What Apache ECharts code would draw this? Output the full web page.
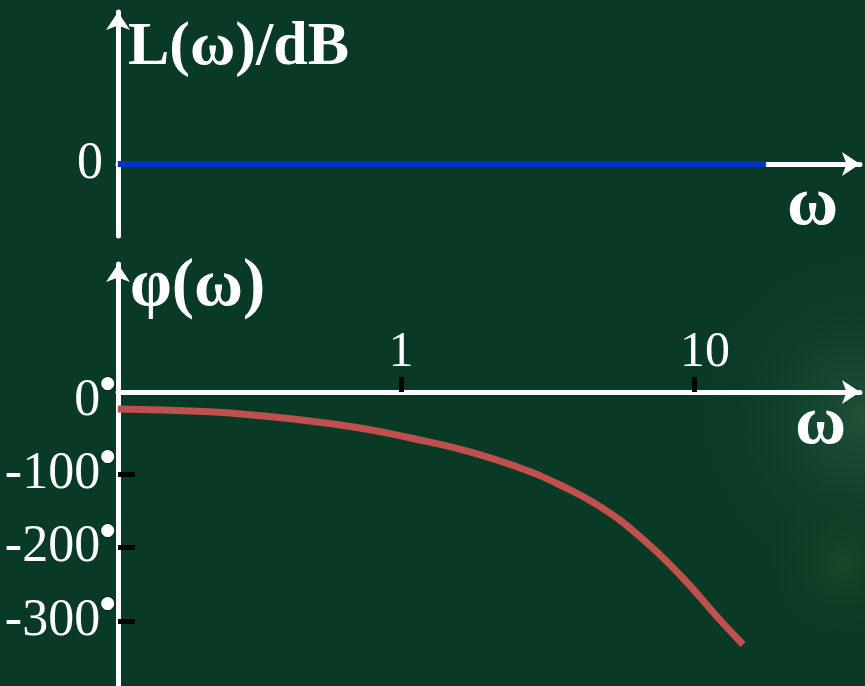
<!DOCTYPE html>
<html>
<head>
<meta charset="utf-8">
<script src="https://cdn.jsdelivr.net/npm/echarts@6/dist/echarts.min.js"></script>
<style>
  html, body { margin: 0; padding: 0; background: #083a26; }
  #chart { width: 865px; height: 686px; }
</style>
</head>
<body>
<div id="chart"></div>
<script>
// Bode diagram: flat magnitude at 0 dB, phase dropping off with frequency
const omegaMag = [0.108, 17.6];
const magDb = [0, 0];

const omegaPhase = [0.108, 0.223, 0.33, 0.489, 0.724, 1.07, 1.72, 2.55, 3.49, 4.78, 6.54, 8.96, 12.27, 14.7];
const phaseDeg = [-10.9, -14.6, -20.1, -27.3, -36.8, -50.1, -69.2, -91.4, -114.5, -144.1, -185.0, -237.3, -298.6, -332.0];

const omegaTicks = [1, 10];
const magTicks = [0];
const phaseTicks = [0, -100, -200, -300];

const SERIF = '"Liberation Serif", "Times New Roman", serif';
const lg = v => Math.log10(v);

// frequency axis is drawn in decades (log10 of omega)
const X_MIN = -0.966, X_MAX = 1.5666;

const chart = echarts.init(document.getElementById('chart'), null, { renderer: 'canvas' });

const arrowLine = {
  onZero: false,
  symbol: ['none', 'arrow'],
  symbolSize: [18, 18],
  lineStyle: { color: '#ffffff', width: 5 }
};

chart.setOption({
  backgroundColor: '#083a26',
  animation: false,
  grid: [
    { left: 118, right: 5, top: 12, bottom: 450, outerBoundsMode: 'none', containLabel: false },
    { left: 118, right: 5, top: 264, bottom: 0, outerBoundsMode: 'none', containLabel: false }
  ],
  xAxis: [
    {
      gridIndex: 0, type: 'value', min: X_MIN, max: X_MAX,
      axisLine: Object.assign({}, arrowLine, { onZero: true }),
      axisTick: { show: false }, axisLabel: { show: false }, splitLine: { show: false }
    },
    {
      gridIndex: 1, type: 'value', min: X_MIN, max: X_MAX,
      position: 'top', offset: -128,
      axisLine: arrowLine,
      axisTick: {
        show: true, customValues: omegaTicks.map(lg), length: 15,
        lineStyle: { color: '#000000', width: 5 }
      },
      axisLabel: {
        customValues: omegaTicks.map(lg),
        formatter: v => {
          const t = String(Math.round(Math.pow(10, v)));
          return t.length > 1 ? '{w|' + t + '}' : t;
        },
        rich: { w: { color: '#ffffff', fontSize: 50, fontFamily: SERIF, padding: [0, 0, 0, 22] } },
        color: '#ffffff', fontSize: 50, fontFamily: SERIF, margin: 14
      },
      splitLine: { show: false }
    }
  ],
  yAxis: [
    {
      gridIndex: 0, type: 'value', min: -72, max: 152,
      axisLine: arrowLine,
      axisTick: { show: false },
      axisLabel: {
        customValues: magTicks, color: '#ffffff', fontSize: 52, fontFamily: SERIF, margin: 15
      },
      splitLine: { show: false }
    },
    {
      gridIndex: 1, type: 'value', min: -388.6, max: 186.8,
      axisLine: arrowLine,
      axisTick: {
        show: true, inside: true, customValues: phaseTicks.slice(1), length: 17,
        lineStyle: { color: '#000000', width: 5 }
      },
      axisLabel: {
        customValues: phaseTicks,
        formatter: v => '{n|' + v + '}{d|●}',
        rich: {
          n: { color: '#ffffff', fontSize: 52, fontFamily: SERIF },
          d: {
            color: '#ffffff', fontSize: 17, fontFamily: '"DejaVu Sans"', verticalAlign: 'top',
            textBorderColor: '#0b2a12', textBorderWidth: 2
          }
        },
        margin: 3
      },
      splitLine: { show: false }
    }
  ],
  series: [
    {
      type: 'line', xAxisIndex: 0, yAxisIndex: 0,
      data: omegaMag.map((w, i) => [lg(w), magDb[i]]),
      showSymbol: false, z: 5,
      lineStyle: { color: '#0033cc', width: 6 }
    },
    {
      type: 'line', xAxisIndex: 1, yAxisIndex: 1,
      data: omegaPhase.map((w, i) => [lg(w), phaseDeg[i]]),
      smooth: 0.5, showSymbol: false, z: 5,
      lineStyle: { color: '#c0504d', width: 7 }
    }
  ],
  graphic: [
    {
      // soft light glow along the right edge of the board
      type: 'rect', z: -10, silent: true,
      shape: { x: 660, y: 150, width: 205, height: 536 },
      style: {
        fill: {
          type: 'radial', x: 1.0, y: 0.5, r: 0.9,
          colorStops: [
            { offset: 0, color: 'rgba(56,104,76,0.5)' },
            { offset: 0.45, color: 'rgba(36,86,60,0.25)' },
            { offset: 1, color: 'rgba(8,58,38,0)' }
          ]
        }
      }
    },
    {
      type: 'rect', z: -9, silent: true,
      shape: { x: 750, y: 470, width: 115, height: 190 },
      style: {
        fill: {
          type: 'radial', x: 0.8, y: 0.5, r: 0.65,
          colorStops: [
            { offset: 0, color: 'rgba(40,92,42,0.4)' },
            { offset: 1, color: 'rgba(20,70,35,0)' }
          ]
        }
      }
    },
    {
      type: 'text', z: 10, x: 128, y: 48,
      style: { text: 'L(ω)/dB', fill: '#ffffff', font: 'bold 62px ' + SERIF, verticalAlign: 'middle' }
    },
    {
      type: 'text', z: 10, x: 130, y: 288,
      style: { text: 'φ(ω)', fill: '#ffffff', font: 'bold 67px ' + SERIF, verticalAlign: 'middle' }
    },
    {
      type: 'text', z: 10, x: 787, y: 206,
      style: { text: 'ω', fill: '#ffffff', font: 'bold 70px ' + SERIF, verticalAlign: 'middle' }
    },
    {
      type: 'text', z: 10, x: 795, y: 425,
      style: { text: 'ω', fill: '#ffffff', font: 'bold 70px ' + SERIF, verticalAlign: 'middle' }
    }
  ]
});
</script>
</body>
</html>
